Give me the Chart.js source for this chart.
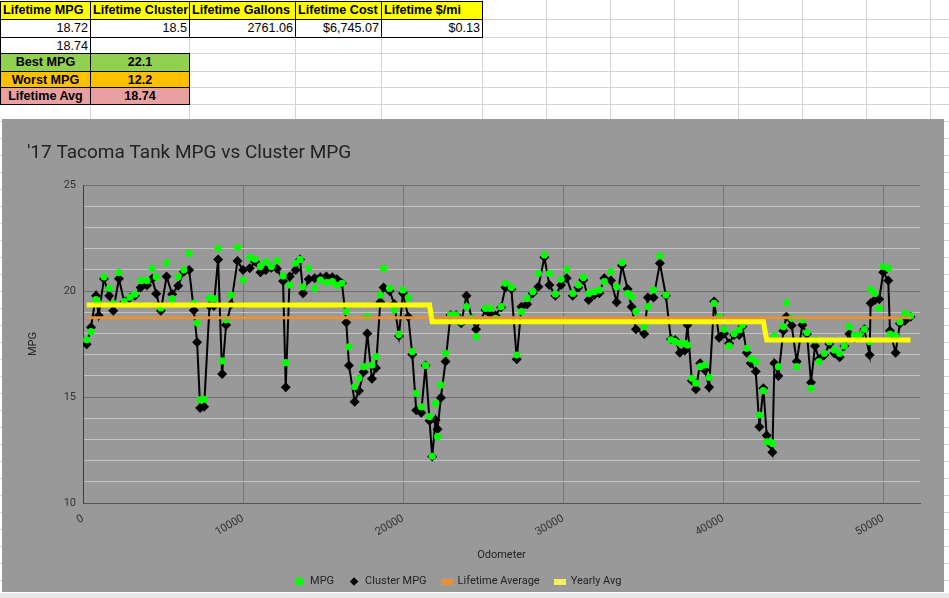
<!DOCTYPE html>
<html>
<head>
<meta charset="utf-8">
<script src="https://cdn.jsdelivr.net/npm/chart.js@4.4.1/dist/chart.umd.min.js"></script>
<style>
  body { margin: 0; width: 949px; height: 598px; overflow: hidden; background: #fff; position: relative;
         font-family: "Liberation Sans", Arial, sans-serif; }
  .gl { position: absolute; background: #d4d4d4; }
  .cell { position: absolute; box-sizing: border-box; border: 1px solid #000; font-size: 12.6px;
          line-height: 16px; padding: 0 2px; white-space: nowrap; overflow: hidden; }
  .hdr { background: #ffff00; font-weight: bold; }
  .num { text-align: right; }
  .ctr { text-align: center; font-weight: bold; }
  #chartBox { position: absolute; left: 2px; top: 119px; width: 942px; height: 473px; overflow: hidden; background: #999999; }
  #bottomBar { position: absolute; left: 0; top: 592px; width: 949px; height: 6px; background: #e8e8e8; border-top: 1px solid #fff; }
</style>
</head>
<body>
<div id="sheet"></div>

<div class="cell hdr" style="left:0;top:1px;width:91px;height:19px;">Lifetime MPG</div>
<div class="cell hdr" style="left:90px;top:1px;width:100px;height:19px;">Lifetime Cluster</div>
<div class="cell hdr" style="left:189px;top:1px;width:107px;height:19px;">Lifetime Gallons</div>
<div class="cell hdr" style="left:295px;top:1px;width:87px;height:19px;">Lifetime Cost</div>
<div class="cell hdr" style="left:381px;top:1px;width:102px;height:19px;">Lifetime $/mi</div>

<div class="cell num" style="left:0;top:19px;width:91px;height:19px;">18.72</div>
<div class="cell num" style="left:90px;top:19px;width:100px;height:19px;">18.5</div>
<div class="cell num" style="left:189px;top:19px;width:107px;height:19px;">2761.06</div>
<div class="cell num" style="left:295px;top:19px;width:87px;height:19px;">$6,745.07</div>
<div class="cell num" style="left:381px;top:19px;width:102px;height:19px;">$0.13</div>

<div class="cell num" style="left:0;top:37px;width:91px;height:17px;">18.74</div>

<div class="cell ctr" style="left:0;top:53px;width:91px;height:19px;background:#92d050;">Best MPG</div>
<div class="cell ctr" style="left:90px;top:53px;width:100px;height:19px;background:#92d050;">22.1</div>
<div class="cell ctr" style="left:0;top:71px;width:91px;height:17px;background:#ffc000;">Worst MPG</div>
<div class="cell ctr" style="left:90px;top:71px;width:100px;height:17px;background:#ffc000;">12.2</div>
<div class="cell ctr" style="left:0;top:87px;width:91px;height:18px;background:#e8a0a0;">Lifetime Avg</div>
<div class="cell ctr" style="left:90px;top:87px;width:100px;height:18px;background:#e8a0a0;">18.74</div>

<div id="chartBox"><canvas id="chart" width="942" height="478"></canvas></div>
<div id="bottomBar"></div>

<script>
// spreadsheet grid lines
const colEdges = [90, 189, 295, 381, 482, 546, 610, 674, 738, 802, 866, 930];
const rowEdges = [19, 37, 53, 71, 87, 104];
for (let y = 121; y < 598; y += 17) rowEdges.push(y);
const sheet = document.getElementById('sheet');
colEdges.forEach(x => {
  const d = document.createElement('div');
  d.className = 'gl';
  d.style.cssText = `left:${x}px;top:0;width:1px;height:598px;`;
  sheet.appendChild(d);
});
rowEdges.forEach(y => {
  const d = document.createElement('div');
  d.className = 'gl';
  d.style.cssText = `left:0;top:${y}px;width:949px;height:1px;`;
  sheet.appendChild(d);
});

// data
const odometer = [
  231, 499, 811, 980, 1310, 1641, 1891, 2246, 2577, 2933,
  3245, 3600, 3994, 4324, 4574, 4867, 5223, 5572, 5947, 6302,
  6633, 6926, 7132, 7320, 7569, 7906, 8174, 8443, 8692, 8942,
  9254, 9653, 10003, 10421, 10752, 11086, 11419, 11772, 12126, 12501,
  12667, 12917, 13291, 13562, 13749, 14102, 14477, 14831, 15205, 15580,
  15871, 16183, 16453, 16620, 16973, 17244, 17535, 17764, 18055, 18305,
  18576, 18784, 19158, 19450, 19741, 19990, 20323, 20573, 20822, 21134,
  21405, 21654, 21821, 22029, 22154, 22362, 22653, 22965, 23318, 23630,
  23963, 24296, 24566, 25147, 25438, 25771, 26125, 26395, 26770, 27102,
  27394, 27748, 28102, 28455, 28830, 29142, 29517, 29870, 30224, 30598,
  30952, 31264, 31597, 31950, 32262, 32574, 32990, 33344, 33677, 34030,
  34280, 34550, 35070, 35298, 35651, 36046, 36421, 36733, 37004, 37295,
  37607, 37773, 38044, 38294, 38564, 38855, 39125, 39437, 39749, 40061,
  40373, 40685, 40997, 41206, 41476, 41725, 42037, 42265, 42515, 42723,
  42931, 43077, 43202, 43452, 43764, 43950, 44283, 44595, 44949, 45240,
  45490, 45740, 45989, 46322, 46634, 46946, 47279, 47571, 47883, 48195,
  48507, 48819, 49152, 49214, 49485, 49755, 50005, 50317, 50421, 50775,
  51045, 51357, 51711
];
const mpg = [
  17.7, 18.08, 19.6, 19.42, 20.67, 20.13, 19.42, 20.87, 19.5, 19.7,
  19.85, 20.5, 20.5, 21.07, 20.67, 19.2, 21.33, 19.64, 20.67, 21.0,
  21.78, 19.42, 18.5, 14.86, 14.89, 19.68, 19.64, 22.01, 16.7, 18.64,
  19.81, 22.06, 20.52, 21.59, 21.5, 21.15, 21.38, 21.15, 21.43, 20.71,
  16.62, 20.28, 21.31, 21.49, 20.2, 21.07, 20.13, 20.52, 20.4, 20.44,
  20.28, 20.36, 19.03, 17.37, 15.49, 15.88, 16.43, 18.79, 16.51, 16.9,
  19.81, 21.07, 20.13, 19.1, 17.95, 20.05, 19.69, 17.14, 15.17, 14.54,
  16.49, 14.07, 12.2, 14.7, 13.13, 15.57, 17.06, 18.87, 18.87, 18.55,
  19.26, 18.71, 17.85, 19.18, 19.18, 18.71, 19.26, 20.36, 20.17, 16.98,
  19.03, 19.65, 19.97, 20.83, 21.7, 20.83, 19.86, 20.55, 21.02, 19.89,
  20.28, 20.64, 19.89, 19.97, 20.05, 20.44, 20.91, 20.2, 21.34, 19.89,
  19.73, 19.03, 18.32, 19.26, 20.05, 21.65, 19.81, 17.69, 17.61, 17.53,
  17.53, 17.45, 15.88, 15.65, 16.43, 16.51, 15.93, 19.42, 18.79, 18.19,
  17.41, 18.0, 18.16, 18.4, 17.3, 16.8, 16.67, 14.15, 15.3, 12.89,
  12.89, 12.81, 17.88, 16.43, 18.32, 19.45, 18.71, 16.43, 18.63, 18.04,
  15.41, 17.69, 16.67, 17.06, 17.61, 17.22, 17.06, 17.41, 18.32, 17.92,
  17.92, 18.19, 17.61, 20.08, 19.89, 19.18, 21.15, 21.07, 17.97, 17.88,
  18.55, 18.95, 18.82
];
const clusterMpg = [
  17.49, 18.29, 19.78, 18.85, 20.58, 19.78, 19.07, 20.58, 19.48, 19.68,
  19.78, 20.17, 20.27, 20.58, 19.87, 19.07, 20.68, 19.85, 20.25, 20.91,
  20.99, 19.09, 17.58, 14.48, 14.54, 19.29, 19.29, 21.49, 16.08, 18.4,
  19.37, 21.41, 20.99, 21.07, 21.38, 20.88, 20.99, 21.1, 21.05, 20.47,
  15.46, 20.68, 20.99, 21.49, 19.89, 20.55, 20.6, 20.65, 20.68, 20.65,
  20.55, 20.36, 18.51, 16.49, 14.78, 15.3, 16.18, 18.0, 15.86, 16.37,
  19.48, 20.17, 20.0, 19.39, 17.88, 19.89, 18.79, 17.01, 14.38, 14.26,
  16.49, 13.88, 12.19, 13.92, 13.48, 14.97, 16.67, 18.87, 18.87, 18.48,
  19.78, 18.68, 18.19, 19.1, 18.92, 18.84, 19.23, 20.17, 20.09, 16.78,
  19.26, 19.37, 19.89, 20.2, 21.59, 20.28, 19.78, 20.28, 20.6, 19.78,
  20.17, 20.52, 19.58, 19.81, 19.89, 20.6, 20.49, 19.47, 21.2, 20.09,
  19.26, 18.19, 17.97, 19.69, 19.69, 21.31, 19.78, 17.72, 17.69, 17.09,
  17.19, 18.4, 15.77, 15.36, 16.59, 16.27, 15.46, 19.5, 17.8, 18.0,
  17.53, 17.92, 17.92, 18.32, 17.09, 16.59, 16.2, 13.6, 15.41, 13.18,
  12.78, 12.39, 16.59, 15.99, 18.13, 18.79, 18.37, 16.67, 18.4, 17.97,
  15.68, 17.41, 16.78, 16.98, 17.5, 17.06, 16.87, 17.41, 17.97, 17.77,
  17.88, 18.19, 16.98, 19.42, 19.58, 19.61, 20.88, 20.49, 18.13, 17.09,
  18.47, 18.6, 18.79
];
const lifetimeX = [231, 51711];
const lifetimeY = [18.74, 18.74];
const yearlyX = [231, 21654, 21821, 42515, 42723, 51711];
const yearlyY = [19.34, 19.34, 18.55, 18.55, 17.69, 17.69];

const xTickValues = [0, 10000, 20000, 30000, 40000, 50000];
const yTickValues = [10, 11, 12, 13, 14, 15, 16, 17, 18, 19, 20, 21, 22, 23, 24, 25];
const yLabelValues = [10, 15, 20, 25];

const pts = (xs, ys) => xs.map((x, i) => ({x: x, y: ys[i]}));

// small bar icons for the legend of the two average lines
function legendBar(color) {
  const c = document.createElement('canvas');
  c.width = 12; c.height = 6;
  const g = c.getContext('2d');
  g.fillStyle = color;
  g.fillRect(0, 0, 12, 6);
  return c;
}

const labelFont = {family: 'Roboto', size: 11};

new Chart(document.getElementById('chart'), {
  type: 'scatter',
  data: {
    datasets: [{
      label: 'MPG',
      data: pts(odometer, mpg),
      showLine: false,
      pointStyle: 'circle',
      pointRadius: 3.6,
      backgroundColor: '#00ff00',
      borderColor: '#00ff00',
      borderWidth: 0,
      order: 2
    }, {
      label: 'Cluster MPG',
      data: pts(odometer, clusterMpg),
      showLine: true,
      borderColor: '#000000',
      borderWidth: 2,
      pointStyle: 'rectRot',
      pointRadius: 5,
      pointBorderWidth: 0,
      backgroundColor: '#000000',
      order: 3
    }, {
      label: 'Lifetime Average',
      data: pts(lifetimeX, lifetimeY),
      showLine: true,
      borderColor: '#e69138',
      backgroundColor: '#e69138',
      borderWidth: 3,
      pointRadius: 0,
      pointStyle: legendBar('#e69138'),
      order: 1
    }, {
      label: 'Yearly Avg',
      data: pts(yearlyX, yearlyY),
      showLine: true,
      borderColor: '#ffff00',
      backgroundColor: '#ffff00',
      borderWidth: 5,
      pointRadius: 0,
      pointStyle: legendBar('#f4ef5a'),
      order: 0
    }]
  },
  options: {
    responsive: false,
    animation: false,
    layout: {padding: {left: 25, right: 24, top: 0, bottom: 0}},
    plugins: {
      title: {
        display: true,
        text: "'17 Tacoma Tank MPG vs Cluster MPG",
        align: 'start',
        color: '#222222',
        font: {family: 'Roboto', size: 19, weight: 'normal'},
        padding: {top: 22.6, bottom: 20.6}
      },
      legend: {
        position: 'bottom',
        labels: {
          usePointStyle: true,
          boxHeight: 6,
          padding: 14.5,
          color: '#222222',
          font: labelFont,
          sort: (a, b) => a.datasetIndex - b.datasetIndex
        }
      },
      tooltip: {enabled: false}
    },
    scales: {
      x: {
        type: 'linear',
        min: 0,
        max: 52300,
        afterFit: s => { s.height = 58.5; },
        afterBuildTicks: s => { s.ticks = xTickValues.map(v => ({value: v})); },
        ticks: {
          autoSkip: false,
          minRotation: 30,
          maxRotation: 30,
          padding: 9,
          color: '#333333',
          font: labelFont,
          callback: v => String(v)
        },
        grid: {
          drawTicks: false,
          color: c => (c.tick && c.tick.value === 0) ? '#3c3c3c' : '#747474'
        },
        border: {color: '#555555'},
        title: {display: true, text: 'Odometer', color: '#222222', font: labelFont, padding: {top: 0, bottom: 0}}
      },
      y: {
        min: 10,
        max: 25,
        afterFit: s => { s.width = 56; },
        afterBuildTicks: s => { s.ticks = yTickValues.map(v => ({value: v})); },
        ticks: {
          autoSkip: false,
          padding: 7,
          color: '#333333',
          font: labelFont,
          callback: v => (yLabelValues.includes(v) ? String(v) : '')
        },
        grid: {
          drawTicks: false,
          color: c => (c.tick && yLabelValues.includes(c.tick.value)) ? '#707070' : '#c2c2c2'
        },
        border: {color: '#3c3c3c'},
        title: {display: true, text: 'MPG', color: '#222222', font: labelFont, padding: {top: 0, bottom: 0}}
      }
    }
  },
  plugins: [{
    id: 'legendShift',
    afterLayout(chart) {
      chart.legend.left -= 16;
      chart.legend.right -= 16;
    }
  }]
});
</script>
</body>
</html>
